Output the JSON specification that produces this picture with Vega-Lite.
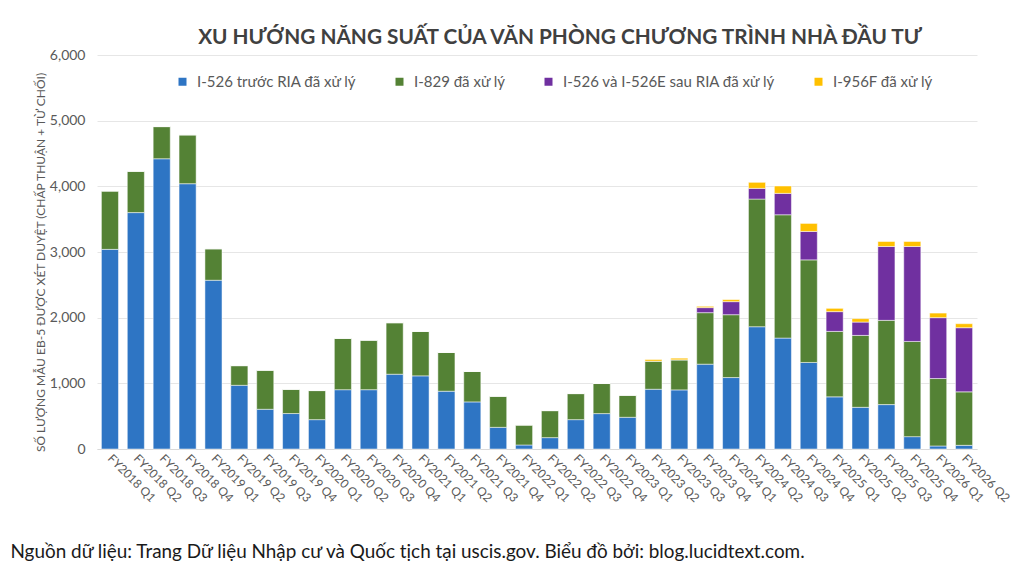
{
  "$schema": "https://vega.github.io/schema/vega-lite/v6.json",
  "width": 880,
  "height": 394,
  "autosize": {"type": "none"},
  "padding": {"left": 97, "top": 55, "right": 47, "bottom": 127},
  "background": "white",
  "title": {
    "text": "XU HƯỚNG NĂNG SUẤT CỦA VĂN PHÒNG CHƯƠNG TRÌNH NHÀ ĐẦU TƯ",
    "font": "Lato",
    "fontSize": 20.8,
    "fontWeight": "bold",
    "color": "#404040",
    "anchor": "middle",
    "dx": 23,
    "dy": 11,
    "offset": 10
  },
  "data": {
    "values": [
      {"q": "FY2018 Q1", "a": 3040, "b": 890, "c": 0, "d": 0},
      {"q": "FY2018 Q2", "a": 3600, "b": 630, "c": 0, "d": 0},
      {"q": "FY2018 Q3", "a": 4420, "b": 490, "c": 0, "d": 0},
      {"q": "FY2018 Q4", "a": 4040, "b": 745, "c": 0, "d": 0},
      {"q": "FY2019 Q1", "a": 2570, "b": 480, "c": 0, "d": 0},
      {"q": "FY2019 Q2", "a": 970, "b": 300, "c": 0, "d": 0},
      {"q": "FY2019 Q3", "a": 605, "b": 595, "c": 0, "d": 0},
      {"q": "FY2019 Q4", "a": 540, "b": 370, "c": 0, "d": 0},
      {"q": "FY2020 Q1", "a": 447, "b": 443, "c": 0, "d": 0},
      {"q": "FY2020 Q2", "a": 903, "b": 782, "c": 0, "d": 0},
      {"q": "FY2020 Q3", "a": 903, "b": 755, "c": 0, "d": 0},
      {"q": "FY2020 Q4", "a": 1139, "b": 785, "c": 0, "d": 0},
      {"q": "FY2021 Q1", "a": 1114, "b": 677, "c": 0, "d": 0},
      {"q": "FY2021 Q2", "a": 880, "b": 590, "c": 0, "d": 0},
      {"q": "FY2021 Q3", "a": 717, "b": 463, "c": 0, "d": 0},
      {"q": "FY2021 Q4", "a": 330, "b": 474, "c": 0, "d": 0},
      {"q": "FY2022 Q1", "a": 61, "b": 305, "c": 0, "d": 0},
      {"q": "FY2022 Q2", "a": 173, "b": 412, "c": 0, "d": 0},
      {"q": "FY2022 Q3", "a": 447, "b": 397, "c": 0, "d": 0},
      {"q": "FY2022 Q4", "a": 539, "b": 458, "c": 0, "d": 0},
      {"q": "FY2023 Q1", "a": 483, "b": 336, "c": 0, "d": 0},
      {"q": "FY2023 Q2", "a": 910, "b": 428, "c": 0, "d": 25},
      {"q": "FY2023 Q3", "a": 900, "b": 458, "c": 0, "d": 25},
      {"q": "FY2023 Q4", "a": 1292, "b": 784, "c": 77, "d": 20},
      {"q": "FY2024 Q1", "a": 1088, "b": 957, "c": 199, "d": 31},
      {"q": "FY2024 Q2", "a": 1862, "b": 1944, "c": 163, "d": 92},
      {"q": "FY2024 Q3", "a": 1689, "b": 1878, "c": 326, "d": 112},
      {"q": "FY2024 Q4", "a": 1318, "b": 1562, "c": 433, "d": 122},
      {"q": "FY2025 Q1", "a": 794, "b": 997, "c": 301, "d": 50},
      {"q": "FY2025 Q2", "a": 635, "b": 1095, "c": 203, "d": 52},
      {"q": "FY2025 Q3", "a": 676, "b": 1283, "c": 1125, "d": 76},
      {"q": "FY2025 Q4", "a": 188, "b": 1450, "c": 1446, "d": 76},
      {"q": "FY2026 Q1", "a": 46, "b": 1027, "c": 927, "d": 70},
      {"q": "FY2026 Q2", "a": 56, "b": 814, "c": 977, "d": 61}
    ]
  },
  "transform": [
    {"fold": ["a", "b", "c", "d"], "as": ["series", "value"]}
  ],
  "mark": {"type": "bar", "stroke": "white", "strokeWidth": 0.5},
  "encoding": {
    "x": {
      "field": "q",
      "type": "nominal",
      "sort": null,
      "scale": {"paddingInner": 0.34, "paddingOuter": 0.17},
      "axis": {
        "title": "Nguồn dữ liệu: Trang Dữ liệu Nhập cư và Quốc tịch tại uscis.gov. Biểu đồ bởi: blog.lucidtext.com.",
        "titleFont": "Lato",
        "titleFontSize": 18.9,
        "titleFontWeight": "normal",
        "titleColor": "#1a1a1a",
        "titleAnchor": "start",
        "titleAlign": "left",
        "titleBaseline": "middle",
        "titleX": -87,
        "titleY": 102,
        "labelAngle": 45,
        "labelAlign": "left",
        "labelBaseline": "middle",
        "labelFont": "Lato",
        "labelFontSize": 12,
        "labelColor": "#595959",
        "labelPadding": 7,
        "ticks": false,
        "domainColor": "#d9d9d9",
        "domainWidth": 1
      }
    },
    "y": {
      "field": "value",
      "type": "quantitative",
      "stack": "zero",
      "scale": {"domain": [0, 6000]},
      "axis": {
        "title": "SỐ LƯỢNG MẪU EB-5 ĐƯỢC XÉT DUYỆT (CHẤP THUẬN + TỪ CHỐI)",
        "titleFont": "Lato",
        "titleFontSize": 12,
        "titleFontWeight": "normal",
        "titleColor": "#595959",
        "titleAngle": -90,
        "titleAlign": "center",
        "titleBaseline": "middle",
        "titleX": -57,
        "titleY": 207,
        "values": [0, 1000, 2000, 3000, 4000, 5000, 6000],
        "format": ",.0f",
        "labelFont": "Lato",
        "labelFontSize": 14,
        "labelColor": "#595959",
        "labelPadding": 12,
        "ticks": false,
        "domain": false,
        "gridColor": "#e6e6e6"
      }
    },
    "color": {
      "field": "series",
      "type": "nominal",
      "scale": {
        "domain": ["a", "b", "c", "d"],
        "range": ["#2e75c4", "#548235", "#7030a0", "#ffc000"]
      },
      "legend": {
        "title": null,
        "orient": "none",
        "direction": "horizontal",
        "columns": 4,
        "legendX": 78,
        "legendY": 19,
        "symbolType": "square",
        "symbolSize": 64,
        "symbolStrokeWidth": 0,
        "labelFont": "Lato",
        "labelFontSize": 15,
        "labelColor": "#595959",
        "labelOffset": 7,
        "labelLimit": 400,
        "columnPadding": 35,
        "labelExpr": "datum.label == 'a' ? 'I-526 trước RIA đã xử lý' : datum.label == 'b' ? 'I-829 đã xử lý' : datum.label == 'c' ? 'I-526 và I-526E sau RIA đã xử lý' : 'I-956F đã xử lý'"
      }
    },
    "order": {"field": "series", "sort": "ascending"}
  },
  "config": {
    "view": {"stroke": null}
  }
}
